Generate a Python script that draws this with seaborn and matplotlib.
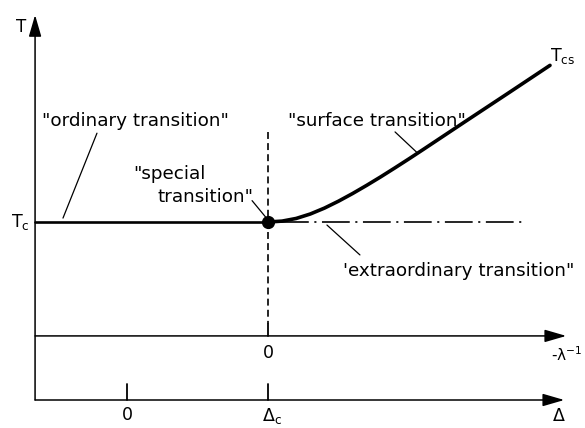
import matplotlib
matplotlib.use("Agg")
import matplotlib.pyplot as plt
import seaborn as sns
import pandas as pd

# --- schematic values -------------------------------------------------------
delta_c = 1.0          # multicritical point on the Delta axis
T_c = 1.0              # bulk critical temperature
delta_ticks = [0.0, delta_c]
delta_tick_labels = ["0", r"$\Delta_\mathrm{c}$"]
lambda_axis_level = 0.36   # height of the -1/lambda axis
lambda_zero = delta_c      # -1/lambda = 0 sits at Delta_c

# surface transition line T_cs(Delta), starting at the special point
cs_delta = [1.00, 1.10, 1.20, 1.30, 1.40, 1.50, 1.60, 1.70, 1.80, 1.90,
            2.00, 2.10, 2.40, 2.70, 3.00]
cs_T = [1.000, 1.005, 1.020, 1.045, 1.078, 1.117, 1.160, 1.206, 1.254,
        1.304, 1.355, 1.407, 1.565, 1.722, 1.880]

ordinary_delta = [-0.652, delta_c]          # bulk T_c line, ordinary branch
extraordinary_delta = [1.09, 2.80]          # bulk T_c line, extraordinary branch

x_axis_start = -0.652
x_axis_end = 3.115
T_axis_top = 2.163

# --- figure -----------------------------------------------------------------
sns.set_theme(style="white")
plt.rcParams["font.family"] = ["DejaVu Sans"]
plt.rcParams["mathtext.fontset"] = "dejavusans"
plt.rcParams["lines.scale_dashes"] = False
plt.rcParams["text.color"] = "black"

fig = plt.figure(figsize=(5.85, 4.28), dpi=100)
ax = fig.add_axes([0, 0, 1, 1])
ax.set_xlim(-0.9007, 3.2482)
ax.set_ylim(-0.1573, 2.2472)
ax.axis("off")

K = "black"
arrow = dict(arrowstyle="-|>,head_length=1.1,head_width=0.32", color=K,
             lw=1.1, shrinkA=0, shrinkB=0, mutation_scale=12)

# axes with arrow heads
ax.annotate("", xy=(x_axis_start, T_axis_top), xytext=(x_axis_start, 0.0),
            arrowprops=arrow)
ax.annotate("", xy=(x_axis_end, lambda_axis_level),
            xytext=(x_axis_start, lambda_axis_level), arrowprops=arrow)
ax.annotate("", xy=(x_axis_end - 0.014, 0.0), xytext=(x_axis_start, 0.0),
            arrowprops=arrow)

# ticks on the Delta and -1/lambda axes
for d in delta_ticks:
    ax.plot([d, d], [0.0, 0.088], color=K, lw=1.3)
ax.plot([lambda_zero, lambda_zero],
        [lambda_axis_level, lambda_axis_level + 0.065], color=K, lw=1.3)

# vertical dashed line at Delta_c
ax.plot([delta_c, delta_c], [1.505, lambda_axis_level + 0.065], color=K,
        lw=1.2, dashes=(5, 3))

# bulk T_c line: ordinary part (solid) and extraordinary part (dash-dot)
sns.lineplot(x=ordinary_delta, y=[T_c, T_c], ax=ax, color=K, lw=1.9,
             estimator=None, sort=False)
ax.plot(extraordinary_delta, [T_c, T_c], color=K, lw=1.2,
        dashes=(20, 4, 1.5, 4))

# surface transition line
curve = pd.DataFrame({"delta": cs_delta, "T": cs_T})
sns.lineplot(data=curve, x="delta", y="T", ax=ax, color=K, lw=2.6,
             estimator=None, sort=False, solid_capstyle="round",
             solid_joinstyle="round")

# special point
ax.plot([delta_c], [T_c], "o", color=K, ms=8.5)

# --- labels -----------------------------------------------------------------
fs = 13.2
ax.text(x_axis_start - 0.1, 2.095, "T", fontsize=12, ha="center",
        va="center")
ax.text(x_axis_start - 0.105, T_c, r"$\mathrm{T_c}$", fontsize=12.5,
        ha="center", va="center")
ax.text(3.09, 1.93, r"$\mathrm{T_{cs}}$", fontsize=12.5, ha="center",
        va="center")
ax.text(lambda_zero, 0.265, "0", fontsize=12.5, ha="center", va="center")
ax.text(delta_ticks[0], -0.085, delta_tick_labels[0], fontsize=12.5,
        ha="center", va="center")
ax.text(delta_ticks[1] - 0.045, -0.09, delta_tick_labels[1], fontsize=12.5,
        ha="left", va="center")
ax.text(3.118, 0.255, r"-$\mathregular{\lambda^{-1}}$", fontsize=11,
        ha="center", va="center")
ax.text(3.065, -0.09, r"$\Delta$", fontsize=12.5, ha="center", va="center")

ax.text(-0.603, 1.57, "\"ordinary transition\"", fontsize=fs, ha="left",
        va="center")
ax.text(0.043, 1.27, "\"special", fontsize=fs, ha="left", va="center")
ax.text(0.213, 1.14, "transition\"", fontsize=fs, ha="left", va="center")
ax.text(1.142, 1.57, "\"surface transition\"", fontsize=fs, ha="left",
        va="center")
ax.text(1.532, 0.725, "'extraordinary transition\"", fontsize=fs,
        ha="left", va="center")

# leader lines from labels to the curves
lead = dict(color=K, lw=0.9)
ax.plot([-0.213, -0.454], [1.499, 1.022], **lead)
ax.plot([0.887, 0.986], [1.120, 1.025], **lead)
ax.plot([1.901, 2.057], [1.506, 1.390], **lead)
ax.plot([1.418, 1.652], [0.983, 0.815], **lead)

fig.savefig("out.png", dpi=100)
